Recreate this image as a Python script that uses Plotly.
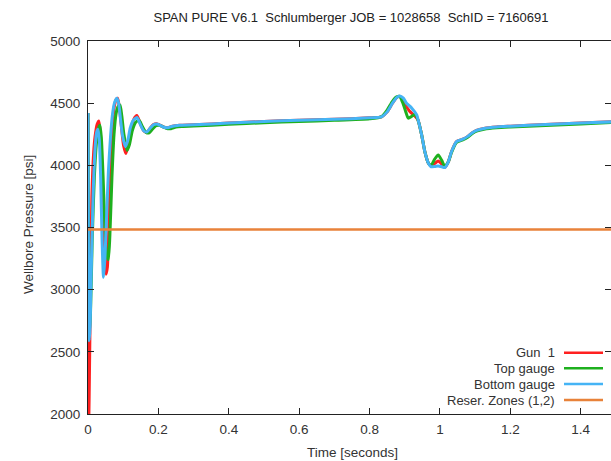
import plotly.graph_objects as go

# ---------------- data ----------------
title_text = "SPAN PURE V6.1  Schlumberger JOB = 1028658  SchID = 7160691"
x_ticks = [0, 0.2, 0.4, 0.6, 0.8, 1.0, 1.2, 1.4]
x_tick_labels = ["0", "0.2", "0.4", "0.6", "0.8", "1", "1.2", "1.4"]
y_ticks = [2000, 2500, 3000, 3500, 4000, 4500, 5000]

# Gun 1 (red)
t_gun = [0, 0.001, 0.002, 0.004, 0.007, 0.011, 0.016, 0.020, 0.026, 0.031,
         0.035, 0.039, 0.043, 0.047, 0.051, 0.055, 0.059, 0.063, 0.068, 0.074,
         0.080, 0.084, 0.089, 0.095, 0.101, 0.108, 0.115, 0.122, 0.130, 0.139,
         0.150, 0.159, 0.168, 0.177, 0.186, 0.195, 0.205, 0.216, 0.227, 0.240,
         0.26, 0.30, 0.40, 0.50, 0.60, 0.70, 0.80, 0.834, 0.85, 0.865,
         0.877, 0.886, 0.896, 0.901, 0.910, 0.915, 0.927, 0.934, 0.938, 0.948,
         0.957, 0.967, 0.974, 0.985, 0.995, 1.005, 1.014, 1.024, 1.033, 1.047,
         1.065, 1.08, 1.092, 1.104, 1.125, 1.161, 1.2, 1.3, 1.4, 1.49]
p_gun = [4420, 3000, 1900, 2300, 3000, 3750, 4100, 4230, 4330, 4357,
         4250, 3950, 3600, 3300, 3125, 3180, 3500, 3900, 4250, 4460,
         4530, 4540, 4470, 4310, 4160, 4095, 4170, 4290, 4370, 4400,
         4325, 4275, 4268, 4300, 4328, 4335, 4322, 4306, 4302, 4315,
         4322, 4326, 4340, 4353, 4362, 4370, 4382, 4390, 4430, 4500,
         4545, 4555, 4520, 4486, 4450, 4432, 4400, 4380, 4362, 4245,
         4111, 4018, 3996, 4015, 4034, 4010, 3985, 4030, 4111, 4191,
         4210, 4235, 4262, 4282, 4297, 4309, 4315, 4328, 4340, 4350]

# Top gauge (green)
t_top = [0, 0.001, 0.004, 0.007, 0.012, 0.018, 0.024, 0.030, 0.034, 0.038,
         0.043, 0.048, 0.053, 0.058, 0.063, 0.068, 0.074, 0.080, 0.086, 0.091,
         0.096, 0.102, 0.111, 0.118, 0.126, 0.135, 0.145, 0.155, 0.165, 0.174,
         0.183, 0.193, 0.202, 0.212, 0.224, 0.236, 0.25, 0.27, 0.30, 0.40,
         0.50, 0.60, 0.70, 0.80, 0.834, 0.85, 0.865, 0.877, 0.886, 0.896,
         0.903, 0.910, 0.920, 0.929, 0.938, 0.948, 0.957, 0.967, 0.974, 0.985,
         0.995, 1.005, 1.014, 1.024, 1.033, 1.047, 1.065, 1.08, 1.092, 1.104,
         1.125, 1.161, 1.2, 1.3, 1.4, 1.49]
p_top = [4420, 3600, 2650, 2800, 3400, 3900, 4180, 4300, 4323, 4220,
         3900, 3500, 3280, 3242, 3500, 3900, 4250, 4420, 4475, 4484,
         4400, 4250, 4120, 4170, 4280, 4345, 4362, 4310, 4265, 4262,
         4290, 4318, 4323, 4312, 4295, 4295, 4308, 4312, 4316, 4330,
         4343, 4353, 4362, 4375, 4392, 4445, 4515, 4550, 4553, 4490,
         4430, 4379, 4395, 4411, 4360, 4245, 4111, 4018, 3996, 4050,
         4084, 4040, 3990, 4030, 4105, 4185, 4205, 4228, 4255, 4275,
         4290, 4302, 4308, 4320, 4333, 4345]

# Bottom gauge (blue)
t_bot = [0, 0.001, 0.0035, 0.006, 0.010, 0.015, 0.020, 0.024, 0.028, 0.032,
         0.036, 0.040, 0.044, 0.048, 0.053, 0.058, 0.064, 0.070, 0.076, 0.082,
         0.087, 0.092, 0.098, 0.106, 0.113, 0.120, 0.128, 0.139, 0.150, 0.159,
         0.168, 0.177, 0.186, 0.195, 0.205, 0.216, 0.227, 0.240, 0.26, 0.30,
         0.40, 0.50, 0.60, 0.70, 0.80, 0.834, 0.85, 0.865, 0.877, 0.886,
         0.896, 0.905, 0.920, 0.934, 0.938, 0.948, 0.957, 0.967, 0.974, 0.985,
         0.995, 1.005, 1.014, 1.024, 1.033, 1.047, 1.065, 1.08, 1.092, 1.104,
         1.125, 1.161, 1.2, 1.3, 1.4, 1.49]
p_bot = [4420, 3500, 2590, 2700, 3250, 3800, 4130, 4260, 4290, 4210,
         3900, 3400, 3100, 3250, 3600, 3950, 4230, 4420, 4510, 4540,
         4500, 4380, 4240, 4150, 4200, 4300, 4360, 4385, 4320, 4275,
         4270, 4300, 4326, 4332, 4322, 4306, 4302, 4315, 4322, 4326,
         4340, 4353, 4362, 4370, 4382, 4390, 4430, 4500, 4545, 4558,
         4540, 4500, 4460, 4406, 4365, 4245, 4111, 4018, 3990, 3990,
         3995, 3988, 3982, 4030, 4111, 4191, 4210, 4235, 4262, 4282,
         4297, 4309, 4315, 4328, 4340, 4350]

# Reservoir zones (orange)
t_res = [0, 1.49]
p_res = [3483, 3483]

series_names = ["Gun  1", "Top gauge", "Bottom gauge", "Reser. Zones (1,2)"]
series_colors = ["#ff2020", "#1eb01e", "#45b4f5", "#e8823a"]

# ---------------- figure ----------------
FONT = "Liberation Sans, Arial, sans-serif"
W, H = 611, 461
L, R, T, B = 88, 0, 41, 47
pw, ph = W - L - R, H - T - B

fig = go.Figure()
data = [(t_gun, p_gun), (t_top, p_top), (t_bot, p_bot), (t_res, p_res)]
for i, (tt, pp) in enumerate(data):
    fig.add_trace(go.Scatter(
        x=tt, y=pp, mode="lines", name=series_names[i], showlegend=False,
        line=dict(color=series_colors[i], width=3 if i < 3 else 2.5,
                  shape="spline" if i < 3 else "linear", smoothing=0.6),
    ))

def px_x(x):
    return (x - L) / pw

def px_y(y):
    return (H - B - y) / ph

annotations = []
shapes = []
rows = [352.7, 368.3, 384.0, 400.0]
for i, name in enumerate(series_names):
    annotations.append(dict(
        text=name, xref="paper", yref="paper", x=px_x(557), y=px_y(rows[i]),
        xanchor="right", yanchor="middle", showarrow=False,
        font=dict(family=FONT, size=13, color="#333")))
    shapes.append(dict(
        type="line", xref="paper", yref="paper",
        x0=px_x(564), x1=px_x(603), y0=px_y(rows[i]), y1=px_y(rows[i]),
        line=dict(color=series_colors[i], width=2.5)))

annotations.append(dict(
    text="Time [seconds]", xref="paper", yref="paper", x=px_x(352), y=px_y(452),
    xanchor="center", yanchor="middle", showarrow=False,
    font=dict(family=FONT, size=13.5, color="#333")))
annotations.append(dict(
    text="Wellbore Pressure [psi]", xref="paper", yref="paper", x=px_x(28), y=px_y(225),
    xanchor="center", yanchor="middle", textangle=-90, showarrow=False,
    font=dict(family=FONT, size=13.5, color="#333")))

axis_common = dict(
    showline=True, linecolor="#222", linewidth=1, mirror="ticks",
    ticks="inside", ticklen=6, tickcolor="#222", tickwidth=1,
    showgrid=False, zeroline=False,
    tickfont=dict(family=FONT, size=13.5, color="#333"),
)

fig.update_layout(
    width=W, height=H,
    margin=dict(l=L, r=R, t=T, b=B, pad=0),
    paper_bgcolor="white", plot_bgcolor="white",
    title=dict(text=title_text, xref="container", yref="container",
               x=351 / W, y=1 - 17 / H, xanchor="center", yanchor="middle",
               font=dict(family=FONT, size=13, color="#222")),
    xaxis=dict(range=[0, 1.486], tickvals=x_ticks, ticktext=x_tick_labels,
               ticklabelstandoff=3, **axis_common),
    yaxis=dict(range=[2000, 5000], tickvals=y_ticks, ticklabelstandoff=4,
               **axis_common),
    annotations=annotations, shapes=shapes,
)

fig.write_html("out.html")
